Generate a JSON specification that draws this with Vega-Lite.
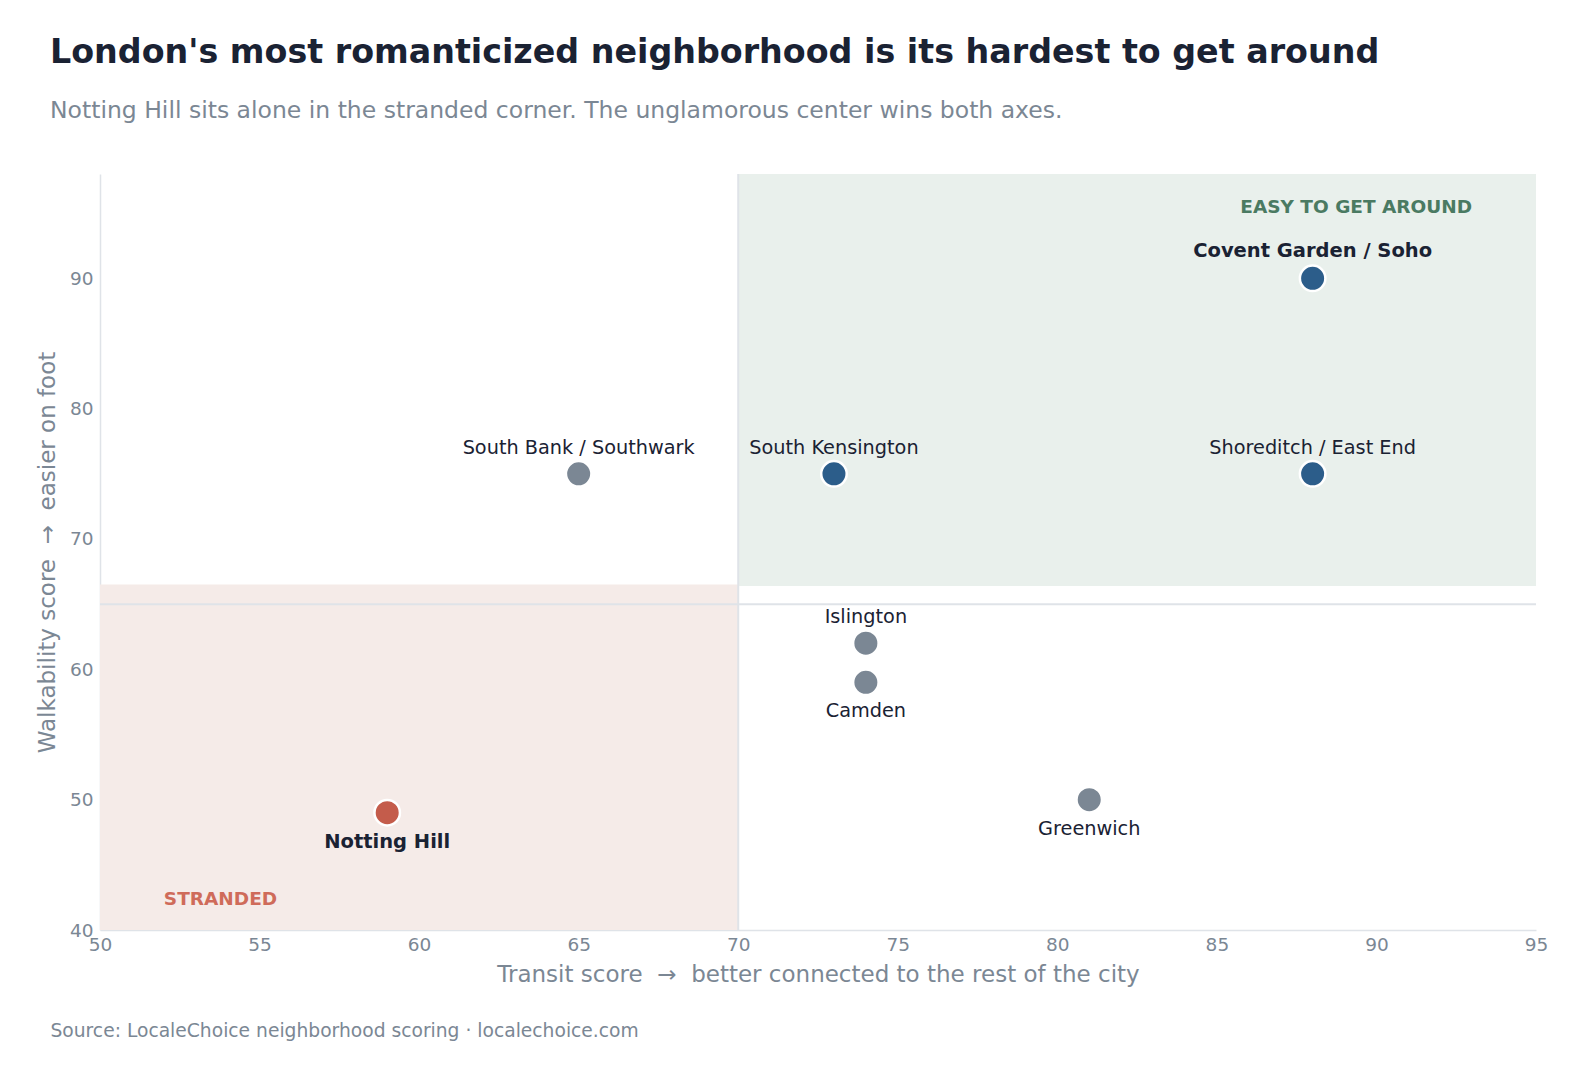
{
  "$schema": "https://vega.github.io/schema/vega-lite/v6.json",
  "background": "white",
  "padding": {"left": 36, "top": 36, "right": 40, "bottom": 20},
  "title": {
    "text": "Source: LocaleChoice neighborhood scoring · localechoice.com",
    "orient": "bottom",
    "anchor": "start",
    "frame": "bounds",
    "offset": 35,
    "dx": 14,
    "font": "DejaVu Sans",
    "fontSize": 18.7,
    "fontWeight": "normal",
    "color": "#7b8794"
  },
  "datasets": {
    "neighborhoods": [
      {"name": "Covent Garden / Soho", "transit": 88, "walk": 90, "group": "central", "label_pos": "above", "emphasis": "bold"},
      {"name": "Shoreditch / East End", "transit": 88, "walk": 75, "group": "central", "label_pos": "above", "emphasis": "regular"},
      {"name": "South Kensington", "transit": 73, "walk": 75, "group": "central", "label_pos": "above", "emphasis": "regular"},
      {"name": "South Bank / Southwark", "transit": 65, "walk": 75, "group": "other", "label_pos": "above", "emphasis": "regular"},
      {"name": "Islington", "transit": 74, "walk": 62, "group": "other", "label_pos": "above", "emphasis": "regular"},
      {"name": "Camden", "transit": 74, "walk": 59, "group": "other", "label_pos": "below", "emphasis": "regular"},
      {"name": "Greenwich", "transit": 81, "walk": 50, "group": "other", "label_pos": "below", "emphasis": "regular"},
      {"name": "Notting Hill", "transit": 59, "walk": 49, "group": "stranded", "label_pos": "below", "emphasis": "bold"}
    ],
    "zones": [
      {"zone": "easy", "x_start": 70, "x_end": 95, "y_start": 66.4, "y_end": 98},
      {"zone": "stranded", "x_start": 50, "x_end": 70, "y_start": 40, "y_end": 66.5}
    ],
    "zone_labels": [
      {"zone": "easy", "label": "EASY TO GET AROUND", "transit": 93, "walk": 95.5},
      {"zone": "stranded", "label": "STRANDED", "transit": 52, "walk": 42.4}
    ]
  },
  "vconcat": [
    {
      "width": 1436,
      "height": 756,
      "title": {
        "text": "London's most romanticized neighborhood is its hardest to get around",
        "subtitle": "Notting Hill sits alone in the stranded corner. The unglamorous center wins both axes.",
        "anchor": "start",
        "frame": "group",
        "dx": -50,
        "offset": 50,
        "font": "DejaVu Sans",
        "fontSize": 33.3,
        "fontWeight": "bold",
        "color": "#1a2233",
        "subtitleFont": "DejaVu Sans",
        "subtitleFontSize": 23.5,
        "subtitleColor": "#7b8794",
        "subtitlePadding": 28
      },
      "resolve": {"scale": {"color": "independent"}},
      "layer": [
        {
          "data": {"name": "zones"},
          "mark": {"type": "rect"},
          "encoding": {
            "x": {"field": "x_start", "type": "quantitative", "scale": {"domain": [50, 95], "nice": false, "zero": false}},
            "x2": {"field": "x_end"},
            "y": {"field": "y_start", "type": "quantitative", "scale": {"domain": [40, 98], "nice": false, "zero": false}},
            "y2": {"field": "y_end"},
            "color": {
              "field": "zone",
              "type": "nominal",
              "scale": {"domain": ["easy", "stranded"], "range": ["#e9f0ec", "#f5ebe8"]},
              "legend": null
            }
          }
        },
        {
          "data": {"values": [{"threshold": 70}]},
          "mark": {"type": "rule", "color": "#dfe3e8", "strokeWidth": 2},
          "encoding": {"x": {"field": "threshold", "type": "quantitative"}}
        },
        {
          "data": {"values": [{"threshold": 65}]},
          "mark": {"type": "rule", "color": "#dfe3e8", "strokeWidth": 2},
          "encoding": {"y": {"field": "threshold", "type": "quantitative"}}
        },
        {
          "data": {"name": "neighborhoods"},
          "mark": {"type": "point", "shape": "circle", "filled": true, "opacity": 1, "size": 650, "stroke": "white", "strokeWidth": 2.5},
          "encoding": {
            "x": {
              "field": "transit",
              "type": "quantitative",
              "axis": {
                "values": [50, 55, 60, 65, 70, 75, 80, 85, 90, 95],
                "title": "Transit score\u00a0 →\u00a0 better connected to the rest of the city",
                "labelFlush": false,
                "labelPadding": 5,
                "titlePadding": 10
              }
            },
            "y": {
              "field": "walk",
              "type": "quantitative",
              "axis": {
                "values": [40, 50, 60, 70, 80, 90],
                "title": "Walkability score\u00a0 →\u00a0 easier on foot",
                "labelPadding": 7,
                "titlePadding": 10
              }
            },
            "color": {
              "field": "group",
              "type": "nominal",
              "scale": {"domain": ["central", "other", "stranded"], "range": ["#2c5d8a", "#7b8794", "#c45c4b"]},
              "legend": null
            }
          }
        },
        {
          "data": {"name": "neighborhoods"},
          "transform": [{"filter": "datum.label_pos == 'above' && datum.emphasis == 'regular'"}],
          "mark": {"type": "text", "dy": -26, "baseline": "middle", "align": "center", "font": "DejaVu Sans", "fontSize": 19.3, "color": "#1a2233"},
          "encoding": {
            "x": {"field": "transit", "type": "quantitative"},
            "y": {"field": "walk", "type": "quantitative"},
            "text": {"field": "name"}
          }
        },
        {
          "data": {"name": "neighborhoods"},
          "transform": [{"filter": "datum.label_pos == 'below' && datum.emphasis == 'regular'"}],
          "mark": {"type": "text", "dy": 29, "baseline": "middle", "align": "center", "font": "DejaVu Sans", "fontSize": 19.3, "color": "#1a2233"},
          "encoding": {
            "x": {"field": "transit", "type": "quantitative"},
            "y": {"field": "walk", "type": "quantitative"},
            "text": {"field": "name"}
          }
        },
        {
          "data": {"name": "neighborhoods"},
          "transform": [{"filter": "datum.label_pos == 'above' && datum.emphasis == 'bold'"}],
          "mark": {"type": "text", "dy": -27, "baseline": "middle", "align": "center", "font": "DejaVu Sans", "fontSize": 19.5, "fontWeight": "bold", "color": "#1a2233"},
          "encoding": {
            "x": {"field": "transit", "type": "quantitative"},
            "y": {"field": "walk", "type": "quantitative"},
            "text": {"field": "name"}
          }
        },
        {
          "data": {"name": "neighborhoods"},
          "transform": [{"filter": "datum.label_pos == 'below' && datum.emphasis == 'bold'"}],
          "mark": {"type": "text", "dy": 29, "baseline": "middle", "align": "center", "font": "DejaVu Sans", "fontSize": 19.5, "fontWeight": "bold", "color": "#1a2233"},
          "encoding": {
            "x": {"field": "transit", "type": "quantitative"},
            "y": {"field": "walk", "type": "quantitative"},
            "text": {"field": "name"}
          }
        },
        {
          "data": {"name": "zone_labels"},
          "transform": [{"filter": "datum.zone == 'easy'"}],
          "mark": {"type": "text", "align": "right", "baseline": "middle", "font": "DejaVu Sans", "fontSize": 18.5, "fontWeight": "bold", "color": "#4a7a62"},
          "encoding": {
            "x": {"field": "transit", "type": "quantitative"},
            "y": {"field": "walk", "type": "quantitative"},
            "text": {"field": "label"}
          }
        },
        {
          "data": {"name": "zone_labels"},
          "transform": [{"filter": "datum.zone == 'stranded'"}],
          "mark": {"type": "text", "align": "left", "baseline": "middle", "font": "DejaVu Sans", "fontSize": 18.5, "fontWeight": "bold", "color": "#cf6b5a"},
          "encoding": {
            "x": {"field": "transit", "type": "quantitative"},
            "y": {"field": "walk", "type": "quantitative"},
            "text": {"field": "label"}
          }
        }
      ]
    }
  ],
  "config": {
    "view": {"stroke": null},
    "font": "DejaVu Sans",
    "axis": {
      "grid": false,
      "ticks": false,
      "domainColor": "#dfe3e8",
      "domainWidth": 1.5,
      "labelFont": "DejaVu Sans",
      "labelFontSize": 18.5,
      "labelColor": "#7b8794",
      "titleFont": "DejaVu Sans",
      "titleFontSize": 23,
      "titleFontWeight": "normal",
      "titleColor": "#7b8794"
    }
  }
}
